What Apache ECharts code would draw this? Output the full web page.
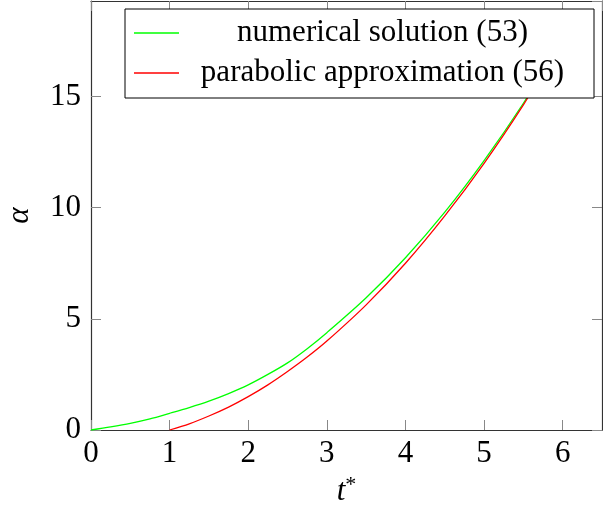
<!DOCTYPE html>
<html>
<head>
<meta charset="utf-8">
<title>alpha vs t*</title>
<script src="https://cdn.jsdelivr.net/npm/echarts@6/dist/echarts.min.js"></script>
<style>
  html, body { margin: 0; padding: 0; background: #fff; }
  #chart { width: 603px; height: 516px; }
</style>
</head>
<body>
<div id="chart"></div>
<script>
// values
var tNum = [0, 0.25, 0.5, 0.75, 1, 1.25, 1.5, 1.75, 2, 2.25, 2.5, 2.75, 3, 3.5, 4, 4.5, 5, 5.5, 6];
var alphaNum = [0, 0.14, 0.3, 0.5, 0.75, 1.01, 1.3, 1.64, 2.03, 2.5, 3.02, 3.66, 4.38, 5.95, 7.75, 9.8, 12.12, 14.7, 17.55];

var tPar = [1, 1.25, 1.5, 1.75, 2, 2.25, 2.5, 2.75, 3, 3.5, 4, 4.5, 5, 5.5, 6];
var alphaPar = [0, 0.28, 0.63, 1.03, 1.5, 2.03, 2.63, 3.28, 4.0, 5.63, 7.5, 9.63, 12.0, 14.63, 17.5];

var xTicks = [0, 1, 2, 3, 4, 5, 6];
var yTicks = [0, 5, 10, 15];

var seriesNames = ['numerical solution (53)', 'parabolic approximation (56)'];

var FONT = 'Liberation Serif';
var AXIS_COLOR = '#333';
var TICK_COLOR = '#888';

function pairs(xs, ys) {
  return xs.map(function (x, i) { return [x, ys[i]]; });
}

var chart = echarts.init(document.getElementById('chart'));

chart.setOption({
  backgroundColor: '#fff',
  animation: false,
  grid: {
    left: 91,
    right: 1,
    top: 1,
    bottom: 86,
    outerBoundsMode: 'none'
  },
  legend: {
    left: 125,
    top: 9,
    orient: 'vertical',
    data: seriesNames,
    icon: 'rect',
    backgroundColor: '#fff',
    borderColor: '#000',
    borderWidth: 1,
    borderRadius: 0,
    padding: [6, 13, 7, 9],
    itemWidth: 45,
    itemHeight: 1.4,
    itemGap: 4,
    formatter: function (name) { return '{a|' + name + '}'; },
    textStyle: {
      fontFamily: FONT,
      fontSize: 31,
      color: '#000',
      width: 397,
      lineHeight: 36,
      overflow: 'none',
      rich: {
        a: {
          fontFamily: FONT,
          fontSize: 31,
          color: '#000',
          width: 397,
          align: 'center',
          lineHeight: 36
        }
      }
    }
  },
  xAxis: [{
    type: 'value',
    min: 0,
    max: 6.5,
    interval: 1,
    position: 'bottom',
    name: '{t|t}{s|*}',
    nameLocation: 'middle',
    nameGap: 44,
    nameTextStyle: {
      rich: {
        t: { fontFamily: FONT, fontSize: 31, fontStyle: 'italic', color: '#000' },
        s: { fontFamily: FONT, fontSize: 22, color: '#000', verticalAlign: 'top', padding: [0, 0, 14, 0] }
      }
    },
    axisLine: { show: true, onZero: false, lineStyle: { color: AXIS_COLOR, width: 1.2 } },
    axisTick: { show: true, inside: true, length: 10, lineStyle: { color: TICK_COLOR, width: 1 } },
    splitLine: { show: false },
    axisLabel: {
      margin: 8,
      fontFamily: FONT,
      fontSize: 31,
      color: '#000',
      showMaxLabel: false,
      formatter: function (v) { return xTicks.indexOf(v) >= 0 ? String(v) : ''; }
    }
  }, {
    type: 'value',
    min: 0,
    max: 6.5,
    interval: 1,
    position: 'top',
    axisLine: { show: true, onZero: false, lineStyle: { color: AXIS_COLOR, width: 1.2 } },
    axisTick: { show: true, inside: true, length: 10, lineStyle: { color: TICK_COLOR, width: 1 } },
    splitLine: { show: false },
    axisLabel: { show: false }
  }],
  yAxis: [{
    type: 'value',
    min: 0,
    max: 19.3,
    interval: 5,
    position: 'left',
    name: 'α',
    nameLocation: 'middle',
    nameRotate: 90,
    nameGap: 56,
    nameTextStyle: { fontFamily: FONT, fontSize: 31, fontStyle: 'italic', color: '#000' },
    axisLine: { show: true, onZero: false, lineStyle: { color: AXIS_COLOR, width: 1.2 } },
    axisTick: { show: true, inside: true, length: 10, lineStyle: { color: TICK_COLOR, width: 1 } },
    splitLine: { show: false },
    axisLabel: {
      margin: 10,
      fontFamily: FONT,
      fontSize: 31,
      color: '#000',
      showMaxLabel: false,
      formatter: function (v) { return yTicks.indexOf(v) >= 0 ? String(v) : ''; }
    }
  }, {
    type: 'value',
    min: 0,
    max: 19.3,
    interval: 5,
    position: 'right',
    axisLine: { show: true, onZero: false, lineStyle: { color: AXIS_COLOR, width: 1.2 } },
    axisTick: { show: true, inside: true, length: 10, lineStyle: { color: TICK_COLOR, width: 1 } },
    splitLine: { show: false },
    axisLabel: { show: false }
  }],
  series: [{
    name: seriesNames[0],
    type: 'line',
    xAxisIndex: 0,
    yAxisIndex: 0,
    smooth: 0.3,
    symbol: 'none',
    clip: true,
    lineStyle: { color: '#00ff00', width: 1.3 },
    itemStyle: { color: '#00ff00' },
    data: pairs(tNum, alphaNum)
  }, {
    name: seriesNames[1],
    type: 'line',
    xAxisIndex: 0,
    yAxisIndex: 0,
    smooth: 0.3,
    symbol: 'none',
    clip: true,
    lineStyle: { color: '#ff0000', width: 1.3 },
    itemStyle: { color: '#ff0000' },
    data: pairs(tPar, alphaPar)
  }]
});
</script>
</body>
</html>
